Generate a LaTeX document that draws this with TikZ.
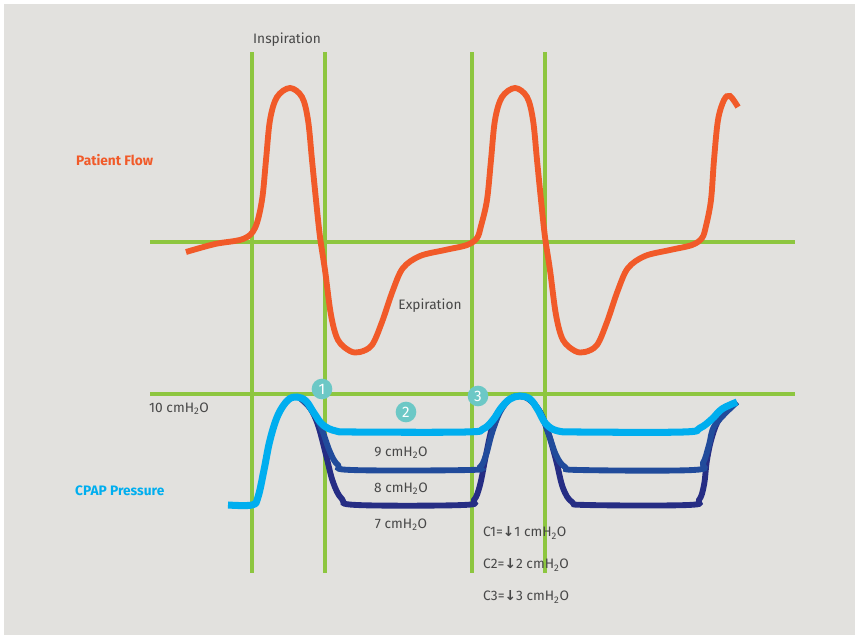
\documentclass[tikz,border=0pt]{standalone}
\usepackage{fontspec}
\setmainfont{Fira Sans}
\newfontfamily\arrowfont{DejaVu Sans}
\usetikzlibrary{positioning}
\definecolor{bggrey}{HTML}{E2E1DE}
\definecolor{gridgreen}{HTML}{8DC63F}
\definecolor{flowred}{HTML}{F15A29}
\definecolor{cpapblue}{HTML}{00AEEF}
\definecolor{midblue}{HTML}{214B9B}
\definecolor{navyblue}{HTML}{262D84}
\definecolor{markteal}{HTML}{6CC8C6}
\definecolor{labelgrey}{HTML}{474747}
\newcommand{\cmwater}{cmH\textsubscript{2}O}
\newcommand{\down}{{\arrowfont\bfseries ↓}}

\begin{document}
\begin{tikzpicture}[x=0.03cm, y=-0.03cm, font=\fontsize{11.7}{13}\selectfont,
  gridline/.style={draw=gridgreen, line width=2.6pt},
  flowline/.style={draw=flowred, line width=5pt},
  pressline/.style={line width=5pt},
  lbl/.style={text=labelgrey, inner sep=0pt},
  marker/.style={circle, fill=markteal, text=white, minimum size=0.62cm, inner sep=0pt, font=\fontsize{13}{14}\selectfont}]
\useasboundingbox (0,0) rectangle (855,635);
\fill[white] (0,0) rectangle (855,635);
\fill[bggrey] (4,4) rectangle (855,635);

% grid
\draw[gridline] (252,52) -- (252,573);
\draw[gridline] (325,52) -- (325,573);
\draw[gridline] (472,52) -- (472,573);
\draw[gridline] (545,52) -- (545,573);
\draw[gridline] (150,242) -- (795,242);
\draw[gridline] (150,394) -- (795,394);

% patient flow
\draw[flowline] plot[smooth, tension=0.55] coordinates {
  (186,252) (215,244) (243,239) (255,228) (262,200) (266,160) (270,120)
  (277,97) (290,88) (302,97) (308,120) (312,160) (316,200) (320,237)
  (325,270) (331,315) (338,340) (350,351) (360,352) (372,345) (382,322)
  (393,290) (403,268) (420,256) (445,250) (467,245) (477,238)
  (481,226) (487,200) (491,160) (495,120) (502,97) (515,88) (527,97)
  (533,120) (537,160) (541,200) (545,237) (550,270) (556,315) (563,340)
  (575,351) (585,352) (597,345) (607,322) (618,290) (628,268) (645,256)
  (670,250) (692,245) (702,238) (706,226) (711,200) (714,160) (718,120)
  (724,100) (730,96) (738,107)};

% cpap pressure, 7 cmH2O
\draw[pressline, navyblue] plot[smooth, tension=0.6] coordinates {
  (300,398) (310,408) (318,425) (326,455) (333,482) (342,499) (357,505)
  (463,505) (474,500) (480,485) (486,455) (492,428) (500,410)
  (510,399) (520,396) (530,400) (540,412) (548,432) (556,460) (563,488)
  (572,502) (587,505) (688,505) (699,500) (704,485) (707,460) (712,437)
  (720,418) (737,402)};
% 8 cmH2O
\draw[pressline, midblue] plot[smooth, tension=0.6] coordinates {
  (300,398) (312,410) (322,430) (330,452) (338,465) (352,470) (468,470)
  (480,467) (486,455) (492,433) (500,412) (510,399) (520,396) (530,400)
  (540,412) (548,432) (556,455) (565,467) (580,470) (693,470) (703,463)
  (709,445) (715,425) (737,402)};
% 10 cmH2O
\draw[pressline, cpapblue, line width=6pt] plot[smooth, tension=0.6] coordinates {
  (228,505) (252,505) (258,497) (264,470) (270,440) (278,415) (288,400)
  (297,397) (306,401) (314,413) (323,425) (336,431) (355,432) (465,432)
  (483,429) (493,420) (501,408) (510,399) (520,396) (530,399) (538,410)
  (546,424) (558,431) (580,432) (683,432) (700,428) (712,419) (722,409)
  (737,402)};

% labels
\node[lbl] (insp) at (287,40) {Inspiration};
\node[lbl] (exp) at (430,306) {Expiration};
\node[inner sep=0pt, anchor=west, text=flowred] (flow) at (76,160) {\bfseries Patient Flow};
\node[inner sep=0pt, anchor=west, text=cpapblue] (cpap) at (75,491) {\bfseries CPAP Pressure};
\node[lbl, anchor=west] (ten) at (149,409) {10 \cmwater};
\node[lbl] (nine) at (401,453) {9 \cmwater};
\node[lbl] (eight) at (401,489) {8 \cmwater};
\node[lbl] (seven) at (401,525) {7 \cmwater};
\node[lbl, anchor=west] (c1) at (483,533) {C1=\down1 \cmwater};
\node[lbl, anchor=west] (c2) at (483,565) {C2=\down2 \cmwater};
\node[lbl, anchor=west] (c3) at (483,597) {C3=\down3 \cmwater};

% markers
\node[marker] (m1) at (322,389) {1};
\node[marker] (m2) at (406,412) {2};
\node[marker] (m3) at (478,396) {3};
\end{tikzpicture}
\end{document}
